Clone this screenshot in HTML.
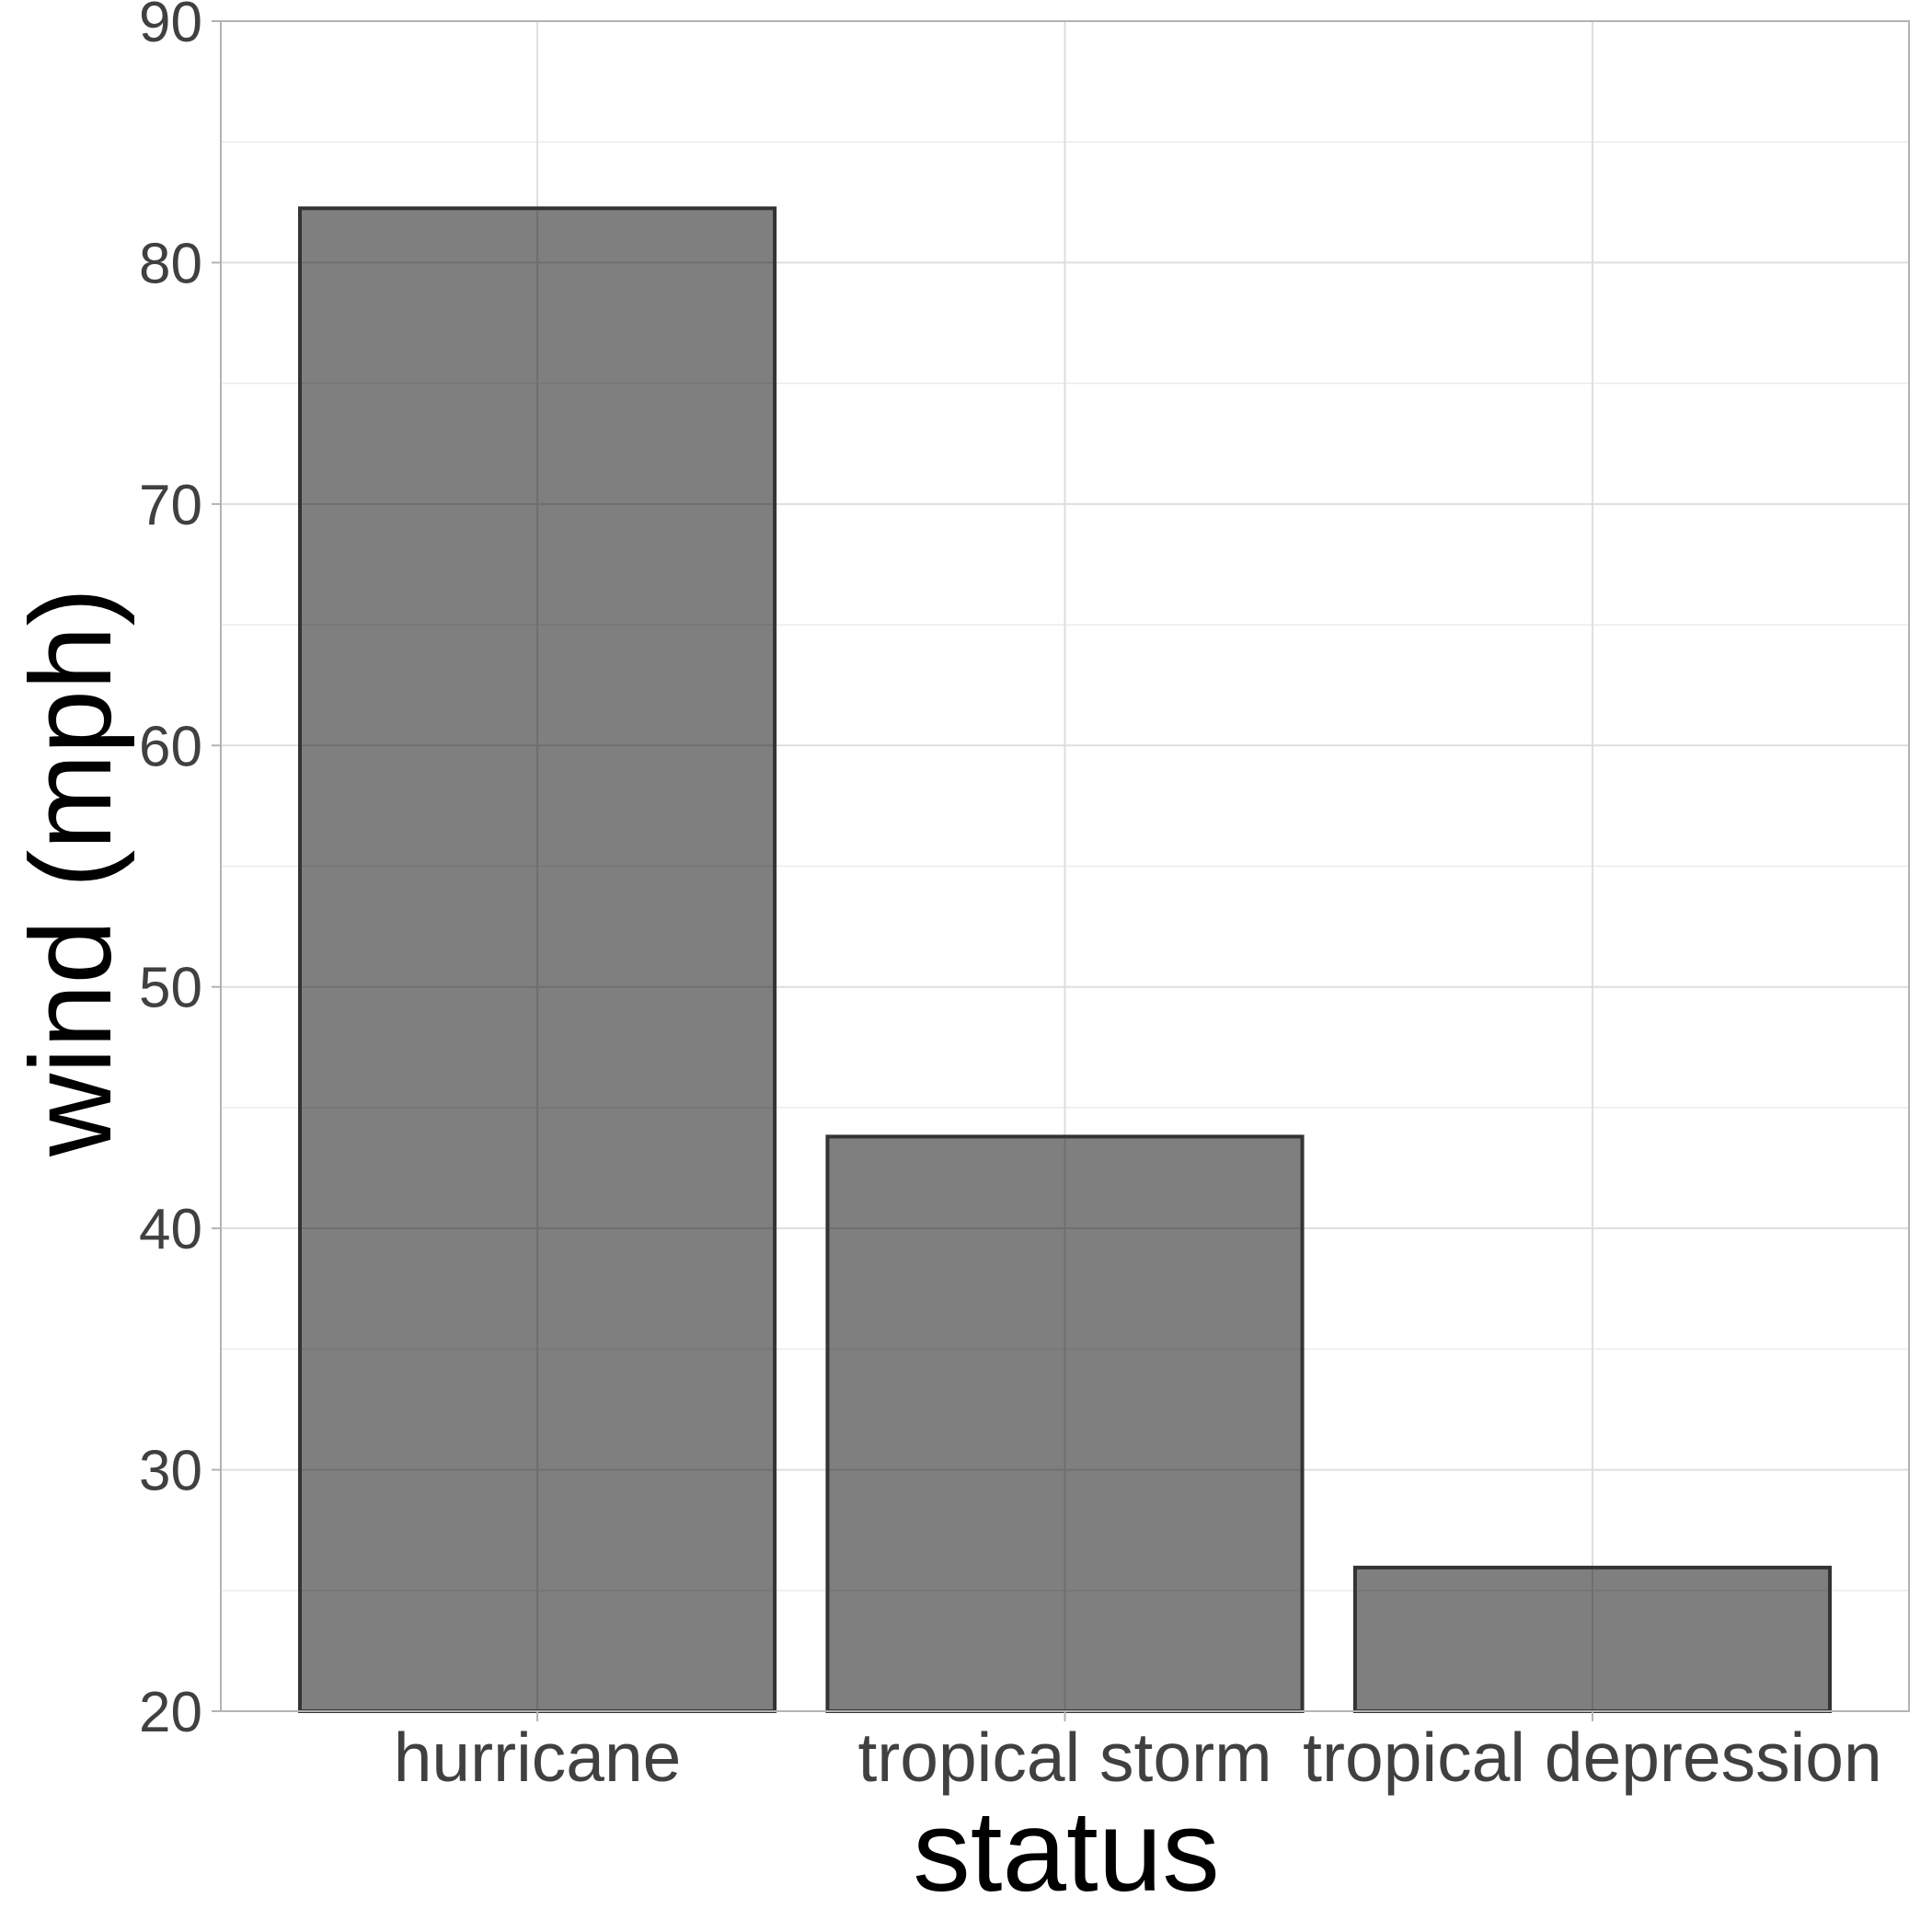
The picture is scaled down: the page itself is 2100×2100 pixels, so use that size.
<!DOCTYPE html>
<html><head><meta charset="utf-8"><style>
html,body{margin:0;padding:0;background:#fff;}
svg{display:block;font-family:"Liberation Sans",Arial,sans-serif;}
</style></head><body>
<svg id="chart" width="2100" height="2100" viewBox="0 0 2100 2100">
<g id="grid"></g>
<g id="bars"></g>
<g id="axes"></g>
<text x="1159" y="2055" font-size="125" text-anchor="middle" fill="#000">status</text>
<text transform="translate(120,948) rotate(-90)" x="0" y="0" font-size="125" text-anchor="middle" fill="#000">wind (mph)</text>
</svg>
<script>
const categories = ["hurricane", "tropical storm", "tropical depression"];
const windValues = [82.25, 43.8, 25.95];
const yTicks = [20, 30, 40, 50, 60, 70, 80, 90];
const yMinorTicks = [25, 35, 45, 55, 65, 75, 85];

const L = 240, R = 2075, T = 23, B = 1860;
const yMin = 20, yMax = 90;
const y = v => B - (v - yMin) / (yMax - yMin) * (B - T);
const unit = (R - L) / (categories.length - 1 + 1.2);
const x = i => L + unit * (i + 0.6);
const barW = unit * 0.9;
const NS = "http://www.w3.org/2000/svg";
function mk(tag, attrs, parent) {
  const e = document.createElementNS(NS, tag);
  for (const k in attrs) e.setAttribute(k, attrs[k]);
  parent.appendChild(e);
  return e;
}
const grid = document.getElementById('grid');
const bars = document.getElementById('bars');
const axes = document.getElementById('axes');

yMinorTicks.forEach(v => {
  const l = mk('line', {x1: L, x2: R, y1: y(v), y2: y(v), stroke: '#ebebeb', 'stroke-width': 1.5}, grid);
  
  
});
yTicks.forEach(v => {
  const l = mk('line', {x1: L, x2: R, y1: y(v), y2: y(v), stroke: '#dedede', 'stroke-width': 2}, grid);
  
  
});
categories.forEach((c, i) => {
  const l = mk('line', {x1: x(i), x2: x(i), y1: T, y2: B, stroke: '#dedede', 'stroke-width': 2}, grid);
  
  
});
categories.forEach((c, i) => {
  const r = mk('rect', {x: x(i) - barW / 2, y: y(windValues[i]), width: barW, height: B - y(windValues[i]), fill: '#000', 'fill-opacity': 0.5, stroke: '#333', 'stroke-width': 4}, bars);
  
  
});
mk('rect', {x: L, y: T, width: R - L, height: B - T, fill: 'none', stroke: '#b3b3b3', 'stroke-width': 2}, axes);
yTicks.forEach(v => {
  mk('line', {x1: L - 10, x2: L, y1: y(v), y2: y(v), stroke: '#b3b3b3', 'stroke-width': 2}, axes);
  const t = mk('text', {x: L - 20, y: y(v) + 22, 'font-size': 62, 'text-anchor': 'end', fill: '#404040'}, axes);
  t.textContent = v;
  
  
});
categories.forEach((c, i) => {
  mk('line', {x1: x(i), x2: x(i), y1: B, y2: B + 11, stroke: '#b3b3b3', 'stroke-width': 2}, axes);
  const t = mk('text', {x: x(i), y: 1936, 'font-size': 75, 'text-anchor': 'middle', fill: '#404040'}, axes);
  t.textContent = c;
  
  
});
</script>
</body></html>
